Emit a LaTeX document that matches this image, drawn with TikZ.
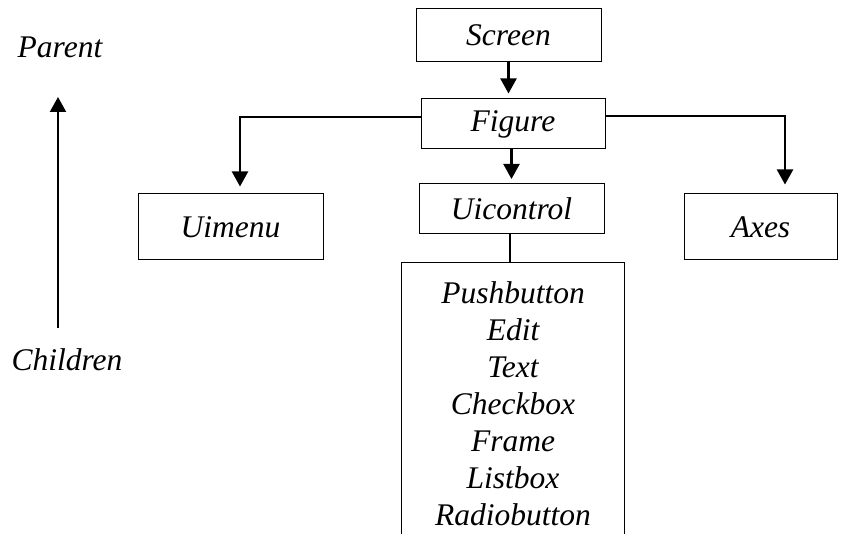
\documentclass[tikz,border=0pt]{standalone}
\usepackage{fontspec}
\setmainfont{Liberation Serif}
\usetikzlibrary{arrows.meta}
\begin{document}
\begin{tikzpicture}[x=1pt,y=-1pt,
  every node/.style={font=\fontsize{31.5}{37}\selectfont\itshape, inner sep=0pt},
  box/.style={draw, line width=1pt},
  arr/.style={line width=2.2pt, -{Triangle[width=16pt,length=15pt]}},
  hline/.style={line width=1.6pt},
  vline/.style={line width=1.2pt}]
\fill[white] (0,0) rectangle (856,534);
\useasboundingbox (0,0) rectangle (856,534);
% boxes
\node[box, minimum width=185pt, minimum height=53pt] (screen) at (508.5,35.5) {Screen};
\node[box, minimum width=184pt, minimum height=50pt] (figure) at (513,124) {Figure};
\node[box, minimum width=185pt, minimum height=50pt] (uicontrol) at (511.5,208.5) {Uicontrol};
\node[box, minimum width=185pt, minimum height=66pt] (uimenu) at (230.5,227) {Uimenu};
\node[box, minimum width=153pt, minimum height=66pt] (axes) at (760.5,227) {Axes};
\node[minimum width=222pt, minimum height=271pt] (list) at (513,398.5) {};
\node[align=center] (listtext) at ([yshift=-5.5pt]list.center) {Pushbutton\\Edit\\Text\\Checkbox\\Frame\\Listbox\\Radiobutton};
\draw[line width=1pt] (list.south west) -- (list.north west) -- (list.north east) -- (list.south east);
% side labels
\node (parent) at (60,47) {Parent};
\node (children) at (67,360) {Children};
% connectors
\draw[arr, shorten >=5pt] (screen.south) -- (figure.north -| screen.south);
\draw[arr, shorten >=4pt] (figure.south -| uicontrol.north) -- (uicontrol.north);
\coordinate (lc) at (240,117);
\coordinate (rc) at (785,116);
\draw[hline] (figure.west |- lc) -- ([xshift=-1pt]lc);
\draw[arr, shorten >=7pt] (lc) -- (lc |- uimenu.north);
\draw[hline] (figure.east |- rc) -- ([xshift=1pt]rc);
\draw[arr, shorten >=9pt] (rc) -- (rc |- axes.north);
\draw[vline] (uicontrol.south -| 510,0) -- (list.north -| 510,0);
\coordinate (cbot) at (58,328);
\coordinate (ptop) at (58,97);
\draw[arr] (cbot) -- (ptop);
\end{tikzpicture}
\end{document}
